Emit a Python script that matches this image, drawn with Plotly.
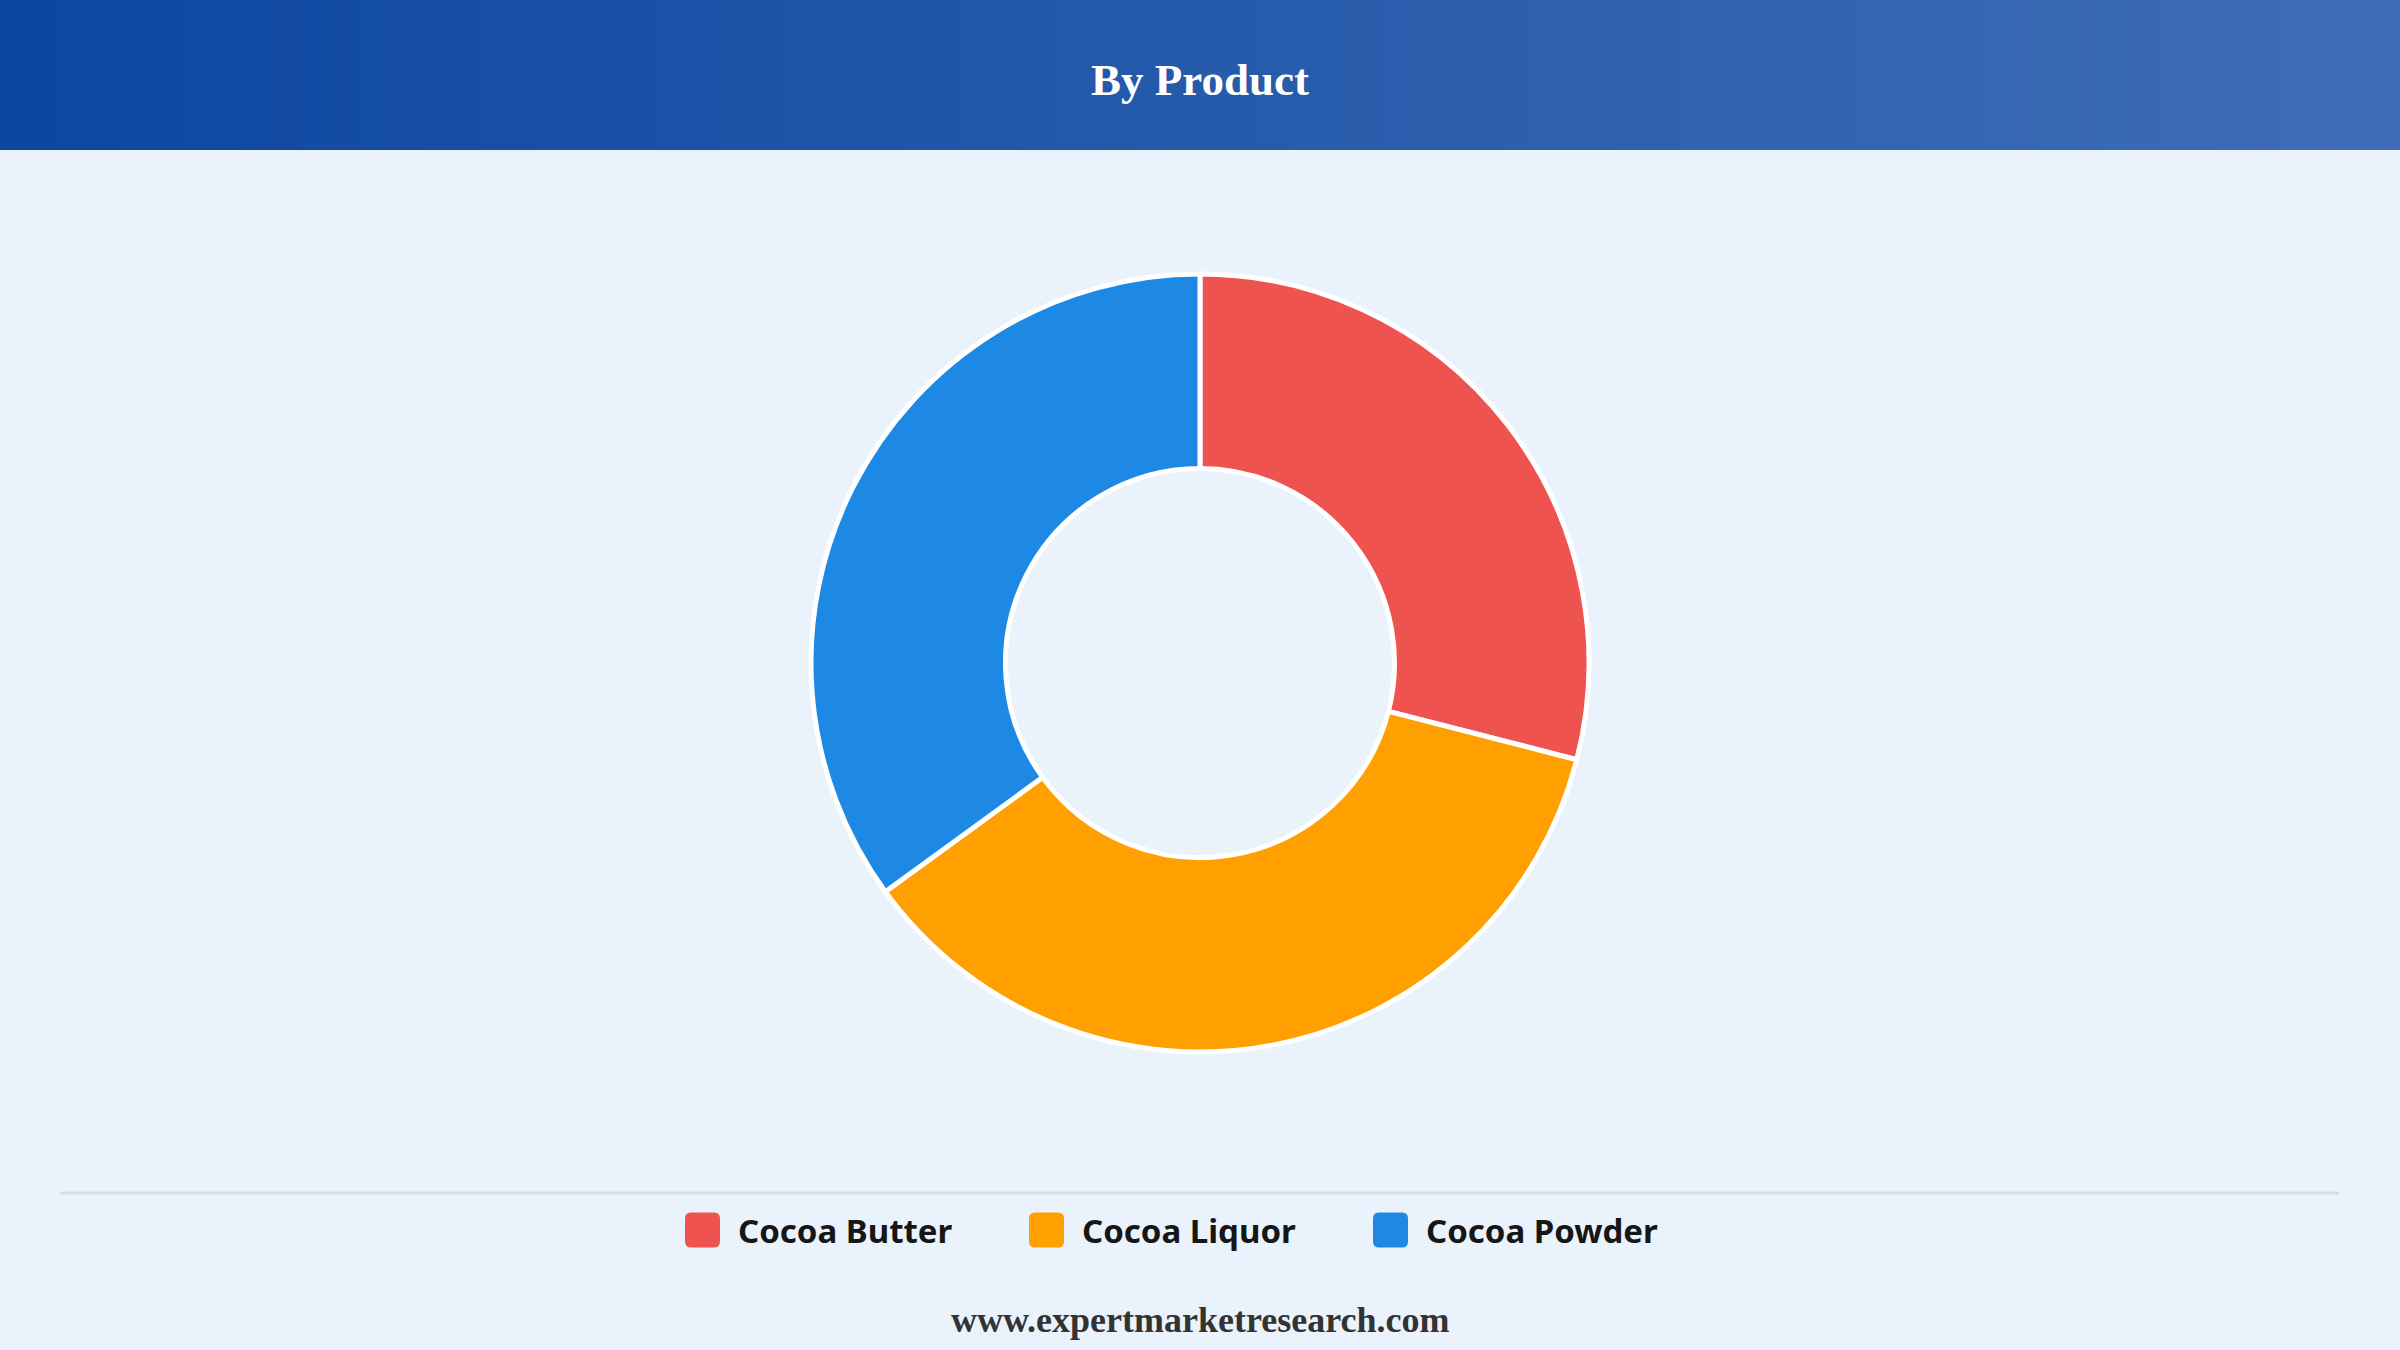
import plotly.graph_objects as go

# データ
labels = ["Cocoa Butter", "Cocoa Liquor", "Cocoa Powder"]
values = [29, 36, 35]
colors = ["#EF5350", "#FFA000", "#1E88E5"]

title_text = "By Product"
footer_text = "www.expertmarketresearch.com"

W, H = 2400, 1350
BG = "#EAF2FB"


def px_x(v):
    return v / W


def px_y(v):
    # 上からのピクセル -> paper座標
    return 1 - v / H


def mix(c1, c2, t):
    a = [int(c1[i:i + 2], 16) for i in (1, 3, 5)]
    b = [int(c2[i:i + 2], 16) for i in (1, 3, 5)]
    return "#%02x%02x%02x" % tuple(round(a[k] + (b[k] - a[k]) * t) for k in range(3))


def rounded_rect(x0, y0, x1, y1, r):
    # ピクセル -> paper で角丸パス
    pts = (
        f"M{px_x(x0 + r)},{px_y(y0)} L{px_x(x1 - r)},{px_y(y0)} "
        f"Q{px_x(x1)},{px_y(y0)} {px_x(x1)},{px_y(y0 + r)} "
        f"L{px_x(x1)},{px_y(y1 - r)} Q{px_x(x1)},{px_y(y1)} {px_x(x1 - r)},{px_y(y1)} "
        f"L{px_x(x0 + r)},{px_y(y1)} Q{px_x(x0)},{px_y(y1)} {px_x(x0)},{px_y(y1 - r)} "
        f"L{px_x(x0)},{px_y(y0 + r)} Q{px_x(x0)},{px_y(y0)} {px_x(x0 + r)},{px_y(y0)} Z"
    )
    return pts


fig = go.Figure()
fig.add_trace(go.Pie(
    labels=labels, values=values, hole=0.5,
    sort=False, direction="clockwise", rotation=0,
    marker=dict(colors=colors, line=dict(color="white", width=5)),
    textinfo="none", hoverinfo="label+percent",
    showlegend=False,
    domain=dict(x=[0, 1], y=[px_y(1052), px_y(274)]),
))

shapes = []
# ヘッダーのグラデーション
n_strips = 80
for i in range(n_strips):
    shapes.append(dict(
        type="rect", xref="paper", yref="paper", layer="below",
        x0=i / n_strips, x1=(i + 1) / n_strips + 0.002, y0=px_y(150), y1=1,
        fillcolor=mix("#0D47A1", "#3E6DB5", i / (n_strips - 1)), line=dict(width=0),
    ))
# 区切り線
shapes.append(dict(
    type="line", xref="paper", yref="paper",
    x0=px_x(60), x1=px_x(2339), y0=px_y(1193), y1=px_y(1193),
    line=dict(color="#D9DDE2", width=3),
))

annotations = [
    dict(text=f"<b>{title_text}</b>", x=0.5, y=px_y(80), xref="paper", yref="paper",
         xanchor="center", yanchor="middle", showarrow=False,
         font=dict(family="Liberation Serif", size=45, color="white")),
    dict(text=f"<b>{footer_text}</b>", x=0.5, y=px_y(1320), xref="paper", yref="paper",
         xanchor="center", yanchor="middle", showarrow=False,
         font=dict(family="Liberation Serif", size=36, color="#333333")),
]

# 凡例（角丸の四角 + テキスト）
leg_left, leg_step, sw, leg_cy = 685, 344, 35, 1230
for i, (lab, col) in enumerate(zip(labels, colors)):
    x0 = leg_left + i * leg_step
    shapes.append(dict(
        type="path", xref="paper", yref="paper",
        path=rounded_rect(x0, leg_cy - sw / 2, x0 + sw, leg_cy + sw / 2, 6),
        fillcolor=col, line=dict(width=0),
    ))
    annotations.append(dict(
        text=f"<b>{lab}</b>", x=px_x(x0 + 51), y=px_y(leg_cy),
        xref="paper", yref="paper", xanchor="left", yanchor="middle", showarrow=False,
        font=dict(family="Noto Sans", size=33, color="#161616"),
    ))

fig.update_layout(
    width=W, height=H,
    margin=dict(l=0, r=0, t=0, b=0),
    paper_bgcolor=BG, plot_bgcolor=BG,
    shapes=shapes, annotations=annotations,
)

# ページの余白を消す
fig.write_html("out.html", config={"displayModeBar": False},
               post_script="document.body.style.margin='0';")
